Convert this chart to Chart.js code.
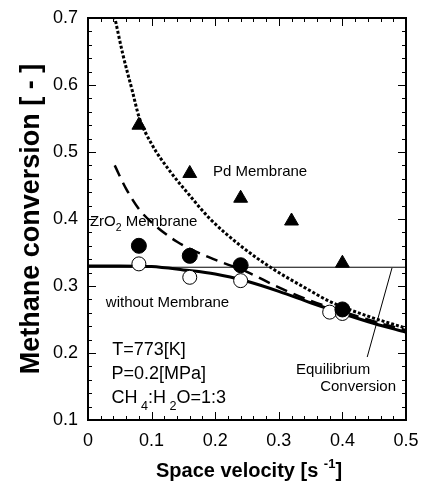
<!DOCTYPE html>
<html>
<head>
<meta charset="utf-8">
<script src="https://cdn.jsdelivr.net/npm/chart.js@4.4.1/dist/chart.umd.min.js"></script>
<style>
  html, body { margin: 0; padding: 0; background: #fff; }
  canvas { display: block; }
</style>
</head>
<body>
<canvas id="chart" width="426" height="483"></canvas>
<script>
// measured points
const pdX = [0.08, 0.16, 0.24, 0.32, 0.40];
const pdY = [0.540, 0.468, 0.431, 0.397, 0.334];
const zrX = [0.08, 0.16, 0.24, 0.40];
const zrY = [0.360, 0.345, 0.331, 0.265];
const noX = [0.08, 0.16, 0.24, 0.38, 0.40];
const noY = [0.333, 0.313, 0.308, 0.261, 0.259];

// model curves
const pdCurveX = [0.040, 0.055, 0.070, 0.080, 0.100, 0.130, 0.160, 0.190, 0.240, 0.290, 0.340, 0.380, 0.440, 0.500];
const pdCurveY = [0.710, 0.645, 0.590, 0.553, 0.512, 0.470, 0.435, 0.402, 0.360, 0.326, 0.298, 0.277, 0.255, 0.237];
const zrCurveX = [0.042, 0.060, 0.080, 0.100, 0.140, 0.190, 0.250, 0.300, 0.350, 0.400, 0.450, 0.500];
const zrCurveY = [0.480, 0.445, 0.415, 0.395, 0.366, 0.343, 0.321, 0.298, 0.278, 0.262, 0.247, 0.234];
const noCurveX = [0.00, 0.05, 0.10, 0.15, 0.20, 0.25, 0.30, 0.35, 0.40, 0.45, 0.50];
const noCurveY = [0.330, 0.330, 0.329, 0.324, 0.318, 0.307, 0.292, 0.275, 0.259, 0.244, 0.231];

// equilibrium line and its pointer
const eqX = [0.0, 0.5];
const eqY = [0.328, 0.328];
const pointerX = [0.478, 0.439];
const pointerY = [0.327, 0.194];

const xTickLabels = ['0', '0.1', '0.2', '0.3', '0.4', '0.5'];

const FONT = '"Liberation Sans", Arial, sans-serif';

const pts = (xs, ys) => xs.map((x, i) => ({ x: x, y: ys[i] }));

// frame and inward ticks, from the scales
const frame = {
  id: 'frame',
  afterDatasetsDraw(chart) {
    const ctx = chart.ctx;
    const x = chart.scales.x, y = chart.scales.y;
    const L = Math.round(x.getPixelForValue(0)), R = Math.round(x.getPixelForValue(0.5));
    const T = Math.round(y.getPixelForValue(0.7)), B = Math.round(y.getPixelForValue(0.1));
    ctx.save();
    ctx.fillStyle = '#000';
    ctx.fillRect(L - 1, T - 1, R - L + 2, 2);
    ctx.fillRect(L - 1, B - 1, R - L + 2, 2);
    ctx.fillRect(L - 1, T - 1, 2, B - T + 2);
    ctx.fillRect(R - 1, T - 1, 2, B - T + 2);
    for (let i = 0; i <= 25; i++) {
      const px = Math.round(x.getPixelForValue(i * 0.02));
      const len = i % 5 === 0 ? 8 : 4;
      ctx.fillRect(px, B - len, 1, len);
      ctx.fillRect(px, T, 1, len);
    }
    for (let i = 0; i <= 30; i++) {
      const py = Math.round(y.getPixelForValue(0.1 + i * 0.02));
      const len = i % 5 === 0 ? 8 : 4;
      ctx.fillRect(L, py, len, 1);
      ctx.fillRect(R - len, py, len, 1);
    }
    ctx.restore();
  }
};

// annotation texts and x title
const notes = {
  id: 'notes',
  afterDraw(chart) {
    const ctx = chart.ctx;
    const x = chart.scales.x, y = chart.scales.y;
    ctx.save();
    ctx.fillStyle = '#000';
    ctx.textBaseline = 'middle';
    ctx.textAlign = 'left';
    const put = (parts, xv, yv, size, bold) => {
      let px = x.getPixelForValue(xv);
      const py = y.getPixelForValue(yv);
      parts.forEach(p => {
        const s = p[1] ? size * 0.7 : size;
        ctx.font = (bold ? 'bold ' : '') + s + 'px ' + FONT;
        ctx.fillText(p[0], px, py + (p[1] || 0));
        px += ctx.measureText(p[0]).width;
      });
    };
    put([['Pd Membrane']], 0.1965, 0.470, 15);
    put([['ZrO'], ['2', 6], [' Membrane']], 0.003, 0.3955, 15);
    put([['without Membrane']], 0.028, 0.2746, 15);
    put([['Equilibrium']], 0.327, 0.1746, 15);
    put([['Conversion']], 0.365, 0.149, 15);
    put([['T=773[K]']], 0.038, 0.2045, 18);
    put([['P=0.2[MPa]']], 0.037, 0.169, 18);
    put([['CH'], [' 4', 9], [':H'], [' 2', 9], ['O=1:3']], 0.037, 0.1335, 18);

    // x axis title with superscript
    ctx.font = 'bold 20px ' + FONT;
    const t1 = 'Space velocity [s ';
    const w1 = ctx.measureText(t1).width;
    ctx.font = 'bold 13px ' + FONT;
    const w2 = ctx.measureText('-1').width;
    ctx.font = 'bold 20px ' + FONT;
    const w3 = ctx.measureText(']').width;
    let tx = (x.getPixelForValue(0) + x.getPixelForValue(0.5)) / 2 + 2 - (w1 + w2 + w3) / 2;
    const ty = 471;
    ctx.fillText(t1, tx, ty); tx += w1;
    ctx.font = 'bold 13px ' + FONT;
    ctx.fillText('-1', tx, ty - 7); tx += w2;
    ctx.font = 'bold 20px ' + FONT;
    ctx.fillText(']', tx, ty);
    ctx.restore();
  }
};

const markerBase = { showLine: false, borderWidth: 1, pointBorderColor: '#000' };
const lineBase = { pointRadius: 0, fill: false, borderColor: '#000', cubicInterpolationMode: 'monotone' };

new Chart(document.getElementById('chart'), {
  type: 'scatter',
  data: {
    datasets: [
      { ...markerBase, label: 'ZrO2 data', data: pts(zrX, zrY), pointStyle: 'circle',
        pointRadius: 7.5, pointBackgroundColor: '#000' },
      { ...markerBase, label: 'without data', data: pts(noX, noY), pointStyle: 'circle',
        pointRadius: 7, pointBackgroundColor: '#fff' },
      { ...markerBase, label: 'Pd data', data: pts(pdX, pdY), pointStyle: 'triangle',
        pointRadius: 8, pointBackgroundColor: '#000' },
      { ...lineBase, label: 'without model', data: pts(noCurveX, noCurveY), showLine: true, borderWidth: 3 },
      { ...lineBase, label: 'ZrO2 model', data: pts(zrCurveX, zrCurveY), showLine: true, borderWidth: 2.5,
        borderDash: [12, 7] },
      { ...lineBase, label: 'Pd model', data: pts(pdCurveX, pdCurveY), showLine: true, borderWidth: 3,
        borderDash: [3, 2] },
      { ...lineBase, label: 'equilibrium', data: pts(eqX, eqY), showLine: true, borderWidth: 1 },
      { ...lineBase, label: 'pointer', data: pts(pointerX, pointerY), showLine: true, borderWidth: 1 }
    ]
  },
  options: {
    responsive: false,
    devicePixelRatio: 1,
    animation: false,
    layout: { padding: { top: 18, right: 20, left: 0, bottom: 0 } },
    plugins: { legend: { display: false }, tooltip: { enabled: false } },
    scales: {
      x: {
        type: 'linear', min: 0, max: 0.5,
        afterFit: s => { s.height = 63; s.paddingLeft = 0; s.paddingRight = 0; },
        grid: { display: false, drawTicks: false },
        border: { display: false },
        ticks: {
          stepSize: 0.1, padding: 10, color: '#000',
          font: { family: FONT, size: 18 },
          callback: (v, i) => xTickLabels[i]
        }
      },
      y: {
        type: 'linear', min: 0.1, max: 0.7,
        afterFit: s => { s.width = 88; s.paddingTop = 0; s.paddingBottom = 0; },
        grid: { display: false, drawTicks: false },
        border: { display: false },
        ticks: {
          stepSize: 0.1, padding: 10, color: '#000',
          font: { family: FONT, size: 18 },
          callback: v => v.toFixed(1)
        },
        title: {
          display: true, text: 'Methane conversion [ - ]', color: '#000',
          font: { family: FONT, size: 27, weight: 'bold' },
          padding: { top: 15, bottom: 0 }
        }
      }
    }
  },
  plugins: [frame, notes]
});
</script>
</body>
</html>
